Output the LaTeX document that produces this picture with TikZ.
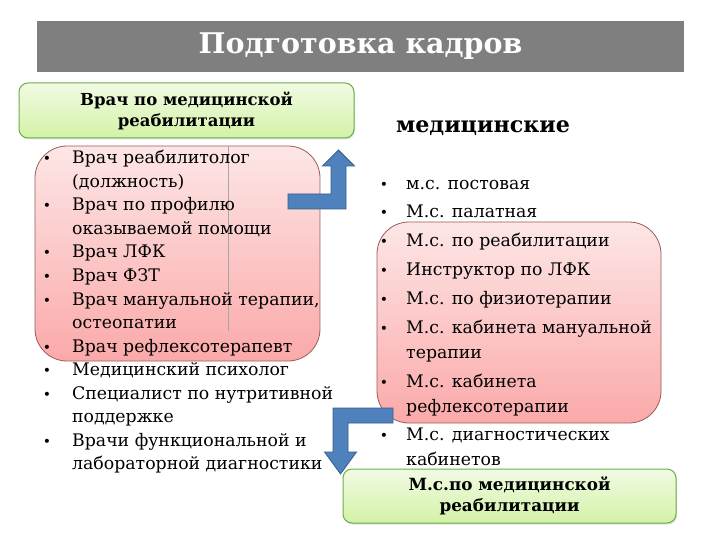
\documentclass[tikz,border=0pt]{standalone}
\usepackage{fontspec}
\setmainfont{DejaVu Serif}
\usetikzlibrary{positioning,shadows}

\definecolor{barGray}{HTML}{7F7F7F}
\definecolor{greenTop}{HTML}{F1FBE4}
\definecolor{greenBot}{HTML}{D3F2A6}
\definecolor{greenLine}{HTML}{6AAE4A}
\definecolor{pinkTop}{HTML}{FDE6E6}
\definecolor{pinkBot}{HTML}{FBA9A9}
\definecolor{pinkLine}{HTML}{9B5A5A}
\definecolor{arrowBlue}{HTML}{4F81BD}
\definecolor{arrowLine}{HTML}{385D8A}

\tikzset{
  greenbox/.style={draw=greenLine, line width=1pt, rounded corners=9pt,
    top color=greenTop, bottom color=greenBot, align=center, inner sep=0pt,
    drop shadow={opacity=0.25, shadow xshift=1pt, shadow yshift=-1.5pt}},
  pinkbox/.style={draw=pinkLine, line width=0.8pt, rounded corners=32pt,
    top color=pinkTop, bottom color=pinkBot, inner sep=0pt},
  bentarrow/.style={fill=arrowBlue, draw=arrowLine, line width=0.8pt},
  item/.style={anchor=base west, inner sep=0pt, font=\fontsize{17.3}{20}\selectfont},
  dot/.style={anchor=base, inner sep=0pt, font=\fontsize{14}{16}\selectfont},
}

\begin{document}
\begin{tikzpicture}[x=1pt,y=-1pt]
\useasboundingbox (0,0) rectangle (720,540);

% title bar
\node[fill=barGray, minimum width=647pt, minimum height=51pt, inner sep=0pt,
  text=white, font=\bfseries\fontsize{28.5}{32}\selectfont] (title) at (360.5,46.5) {Подготовка кадров};

% panels
\node[pinkbox, minimum width=285pt, minimum height=215pt] (leftpanel) at (177.5,253.5) {};
\draw[gray!70, line width=0.4pt] (228,146) -- (228,331);
\node[pinkbox, minimum width=284pt, minimum height=201pt] (rightpanel) at (519,322.5) {};

% headings
\node[greenbox, minimum width=335pt, minimum height=55pt,
  font=\bfseries\fontsize{16.5}{21}\selectfont] (doctor) at (186.5,110.5)
  {Врач по медицинской\\реабилитации};
\node[inner sep=0pt, font=\bfseries\fontsize{22.2}{25}\selectfont] (medlabel) at (483,128) {медицинские};
\node[greenbox, minimum width=333pt, minimum height=54pt,
  font=\bfseries\fontsize{16.8}{21}\selectfont] (nurse) at (509.5,496)
  {М.с.по медицинской\\реабилитации};

% left list
\foreach \t [count=\i from 0] in {Врач реабилитолог, (должность), Врач по профилю,
  оказываемой помощи, Врач ЛФК, Врач ФЗТ, {Врач мануальной терапии,}, остеопатии,
  Врач рефлексотерапевт, Медицинский психолог, Специалист по нутритивной, поддержке,
  Врачи функциональной и, лабораторной диагностики}
  \node[item] (l\i) at (72,164+23.5*\i) {\t};
\foreach \i in {0,2,4,5,6,8,9,10,12}
  \node[dot] (lb\i) at (47,164+23.5*\i) {•};

% right list
\foreach \t/\y [count=\i from 0] in {м.с. постовая/190, М.с. палатная/218,
  М.с. по реабилитации/247, Инструктор по ЛФК/275, М.с. по физиотерапии/304,
  М.с. кабинета мануальной/333, терапии/358, М.с. кабинета/387,
  рефлексотерапии/412, М.с. диагностических/440, кабинетов/465}
  \node[item] (r\i) at (406,\y) {\t};
\foreach \y in {190,218,247,275,304,333,387,440}
  \node[dot] (rb\y) at (384,\y) {•};

% bent arrows
\draw[bentarrow] (288,194) -- (331,194) -- (331,166) -- (322.5,166) -- (338.5,150)
  -- (354.5,166) -- (346,166) -- (346,209) -- (288,209) -- cycle;
\draw[bentarrow] (393,408) -- (333,408) -- (333,452) -- (324.5,452) -- (340.5,474)
  -- (356.5,452) -- (348,452) -- (348,423) -- (393,423) -- cycle;
\end{tikzpicture}
\end{document}
